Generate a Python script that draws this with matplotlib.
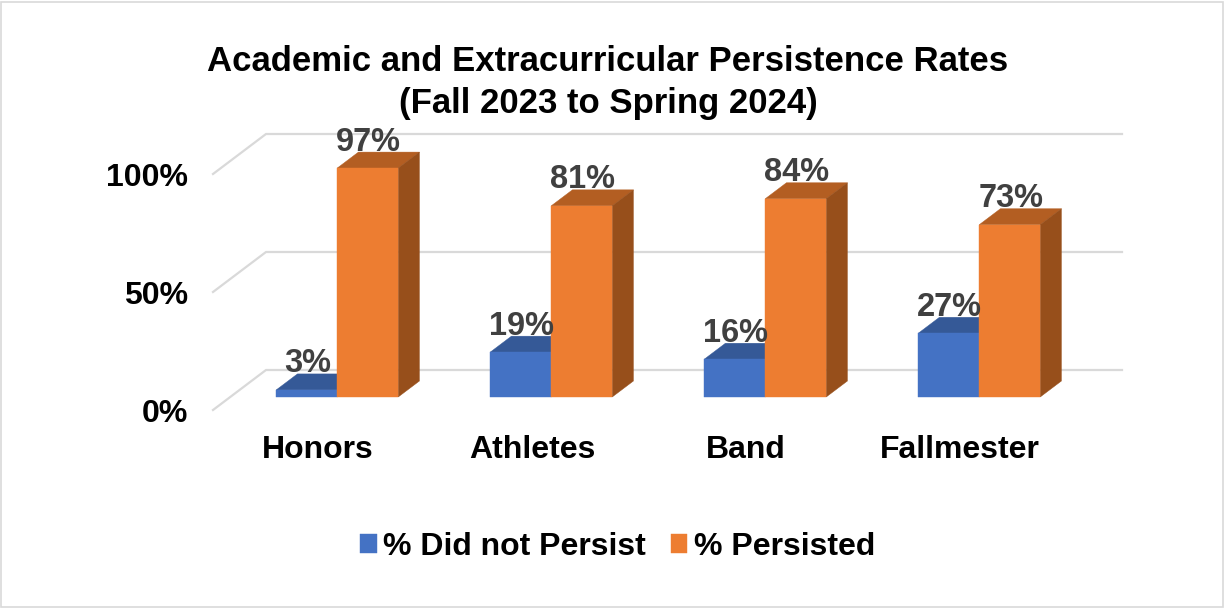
import matplotlib
matplotlib.use("Agg")
import matplotlib.pyplot as plt
from matplotlib.patches import Polygon, Rectangle
from matplotlib.transforms import ScaledTranslation

categories = ["Honors", "Athletes", "Band", "Fallmester"]
did_not_persist = [3, 19, 16, 27]
persisted = [97, 81, 84, 73]
y_ticks = [0, 50, 100]
y_labels = ["0%", "50%", "100%"]

W, H = 1225, 608
BAR_W = 61 / 214
# floor depth, in data units, from the front edge of the plot to the back wall
DEPTH_X = 53 / 214
DEPTH_Y = 40 / 2.36
BAR_D0 = 0.325
BAR_D1 = 0.725

BLUE = ("#4472C4", "#355997", "#2F528F")
ORANGE = ("#ED7D31", "#B35E22", "#974F1B")

plt.rcParams["font.family"] = ["Liberation Sans", "DejaVu Sans"]
plt.rcParams["font.weight"] = "bold"

fig = plt.figure(figsize=(W / 100, H / 100), dpi=100)
fig.add_artist(Rectangle((1 / W, 1 / H), 1222 / W, 605 / H, transform=fig.transFigure,
                         fill=False, edgecolor="#D9D9D9", linewidth=1.2))

ax = fig.add_axes([213 / W, (H - 410) / H, 856 / W, 236 / H])
ax.set_xlim(-0.5, 3.5)
ax.set_ylim(0, 100)
for s in ax.spines.values():
    s.set_visible(False)
ax.patch.set_visible(False)


def proj(x, y, d):
    return x + d * DEPTH_X, y + d * DEPTH_Y


# gridlines: along the back wall, then down the left side of the floor
for t in y_ticks:
    bx, by = proj(-0.5, t, 1)
    ax.plot([-0.5, bx, 3.5 + DEPTH_X], [t, by, by], color="#D9D9D9", lw=1.6,
            clip_on=False, zorder=1, solid_joinstyle="miter")


def bars3d(offset, values, colors, label, z):
    front, top, side = colors
    _, base = proj(0, 0, BAR_D0)
    xs = [i + offset + BAR_D0 * DEPTH_X for i in range(len(values))]
    rects = ax.bar(xs, values, BAR_W, bottom=base, align="edge", color=front,
                   label=label, zorder=z + 2, clip_on=False, edgecolor=front, linewidth=0.3)
    for x, v in zip(xs, values):
        ddx = (BAR_D1 - BAR_D0) * DEPTH_X
        ddy = (BAR_D1 - BAR_D0) * DEPTH_Y
        y1 = base + v
        ax.add_patch(Polygon([(x, y1), (x + BAR_W, y1), (x + BAR_W + ddx, y1 + ddy), (x + ddx, y1 + ddy)],
                             color=top, zorder=z + 1, clip_on=False, lw=0.3))
        ax.add_patch(Polygon([(x + BAR_W, base), (x + BAR_W + ddx, base + ddy),
                              (x + BAR_W + ddx, y1 + ddy), (x + BAR_W, y1)],
                             color=side, zorder=z + 1, clip_on=False, lw=0.3))
        ax.annotate("%d%%" % v, (x + BAR_W / 2, y1 + ddy), xytext=(0.7, -4), textcoords="offset points",
                    ha="center", va="bottom", fontsize=23.5, fontweight="bold",
                    color="#404040", zorder=10, annotation_clip=False)
    return rects


bars3d(-BAR_W, did_not_persist, BLUE, "% Did not Persist", 2)
bars3d(0, persisted, ORANGE, "% Persisted", 5)

ax.set_xticks(range(len(categories)))
ax.set_xticklabels(categories, fontsize=23, fontweight="bold", color="black")
ax.set_yticks(y_ticks)
ax.set_yticklabels(y_labels, fontsize=23, fontweight="bold", color="black")
ax.tick_params(axis="x", length=0, pad=18)
ax.tick_params(axis="y", length=0, pad=18)
# category names sit a little left of the slot centres
for lab in ax.get_xticklabels():
    lab.set_transform(lab.get_transform() + ScaledTranslation(-2 / 100, 0, fig.dpi_scale_trans))

fig.text(608 / W, (H - 82.5) / H, "Academic and Extracurricular Persistence Rates\n(Fall 2023 to Spring 2024)",
         ha="center", va="center", fontsize=25, fontweight="bold", color="black", linespacing=1.32)

fig.legend(loc="center", bbox_to_anchor=(617.5 / W, (H - 547) / H), ncol=2, frameon=False,
           prop={"size": 23, "weight": "bold"}, handlelength=0.52, handleheight=0.52,
           handletextpad=0.2, columnspacing=0.78, borderpad=0, labelcolor="black")

fig.savefig("out.png", dpi=100)
